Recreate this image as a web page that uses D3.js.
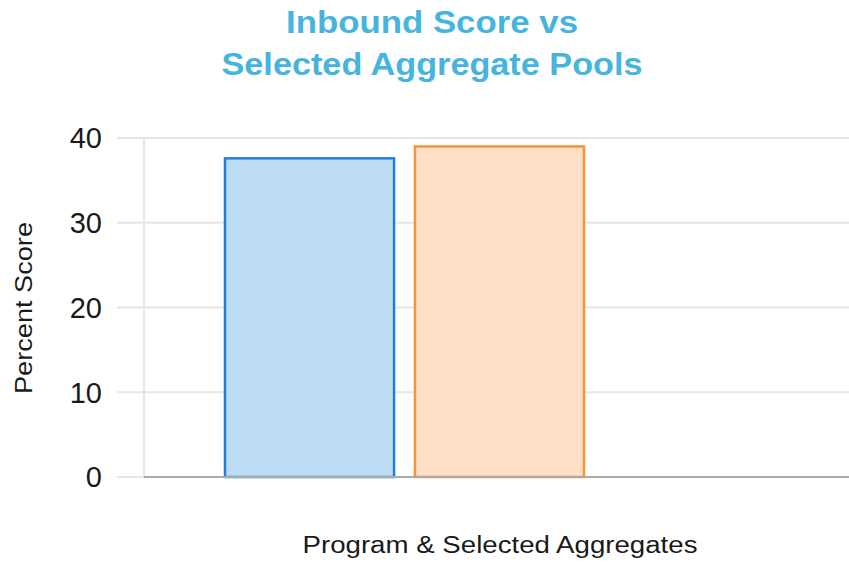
<!DOCTYPE html>
<html>
<head>
<meta charset="utf-8">
<script src="https://cdn.jsdelivr.net/npm/d3@7"></script>
<style>
  body { margin: 0; background: #fff; }
  text { font-family: "Liberation Sans", Arial, sans-serif; }
</style>
</head>
<body>
<div id="chart"></div>
<script>
// chart data
var categories = ["Program", "Selected Aggregates"];
var values = [37.6, 39];
var fills = ["#bfdcf5", "#fde0c6"];
var strokes = ["#1f7fe0", "#fb9138"];
var yTicks = [0, 10, 20, 30, 40];

var width = 849, height = 566;
var plotLeft = 144, plotRight = 849, plotTop = 138, plotBottom = 477;

var svg = d3.select("#chart").append("svg")
    .attr("width", width)
    .attr("height", height);

var y = d3.scaleLinear().domain([0, 40]).range([plotBottom, plotTop]);
var x = d3.scaleBand().domain(categories)
    .range([225, 584])
    .paddingInner(0.11)
    .paddingOuter(0);

// horizontal grid
svg.append("g").selectAll("line.grid")
    .data(yTicks)
  .enter().append("line")
    .attr("class", "grid")
    .attr("x1", 117)
    .attr("x2", plotRight)
    .attr("y1", function(d) { return y(d); })
    .attr("y2", function(d) { return y(d); })
    .attr("stroke", "#e6e6e6")
    .attr("stroke-width", 2);

// vertical grid line at left of plot
svg.append("line")
    .attr("x1", plotLeft).attr("x2", plotLeft)
    .attr("y1", y(40)).attr("y2", y(0))
    .attr("stroke", "#e6e6e6")
    .attr("stroke-width", 2);

// y tick labels
svg.append("g").selectAll("text.tick")
    .data(yTicks)
  .enter().append("text")
    .attr("class", "tick")
    .attr("x", 102)
    .attr("y", function(d) { return y(d); })
    .attr("dy", "0.36em")
    .attr("text-anchor", "end")
    .attr("font-size", 29)
    .attr("fill", "#1a1a1a")
    .text(function(d) { return d; });

// bars
svg.append("g").selectAll("rect.bar")
    .data(values)
  .enter().append("rect")
    .attr("class", "bar")
    .attr("x", function(d, i) { return x(categories[i]); })
    .attr("width", x.bandwidth())
    .attr("y", function(d) { return y(d); })
    .attr("height", function(d) { return y(0) - y(d); })
    .attr("fill", function(d, i) { return fills[i]; })
    .attr("stroke", function(d, i) { return strokes[i]; })
    .attr("stroke-width", 2.5);

// baseline
svg.append("line")
    .attr("x1", plotLeft).attr("x2", plotRight)
    .attr("y1", y(0)).attr("y2", y(0))
    .attr("stroke", "#aaaaaa")
    .attr("stroke-width", 2);

// title
var title = svg.append("text")
    .attr("text-anchor", "middle")
    .attr("font-size", 31)
    .attr("font-weight", "bold")
    .attr("fill", "#45b5dd");
title.append("tspan").attr("x", 432).attr("y", 33)
    .attr("textLength", 292).attr("lengthAdjust", "spacingAndGlyphs")
    .text("Inbound Score vs");
title.append("tspan").attr("x", 432).attr("y", 75)
    .attr("textLength", 421).attr("lengthAdjust", "spacingAndGlyphs")
    .text("Selected Aggregate Pools");

// axis titles
svg.append("text")
    .attr("x", 500)
    .attr("y", 553)
    .attr("text-anchor", "middle")
    .attr("font-size", 23)
    .attr("textLength", 395)
    .attr("lengthAdjust", "spacingAndGlyphs")
    .attr("fill", "#1a1a1a")
    .text("Program & Selected Aggregates");

svg.append("text")
    .attr("transform", "translate(32,308) rotate(-90)")
    .attr("text-anchor", "middle")
    .attr("font-size", 24)
    .attr("textLength", 172)
    .attr("lengthAdjust", "spacingAndGlyphs")
    .attr("fill", "#1a1a1a")
    .text("Percent Score");
</script>
</body>
</html>
